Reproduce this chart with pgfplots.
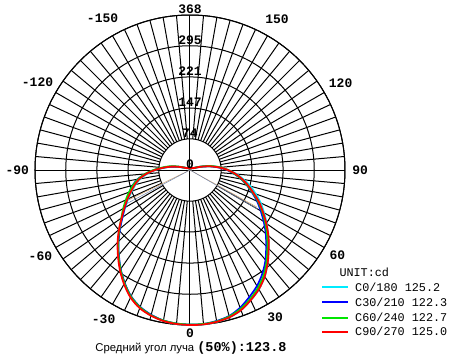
\documentclass[border=0pt]{standalone}
\usepackage{fontspec}
\setmainfont{Liberation Sans}
\newfontfamily\mono{Liberation Mono}
\usepackage{pgfplots}
\pgfplotsset{compat=1.18}
\usepgfplotslibrary{polar}
\usepackage{pgfplotstable}

\pgfplotstableread{
a c0 c30 c60 c90
-180 4 4 4 4
-175 4 4 4 4
-170 4 4 4 4
-165 4 4 4 4
-160 4 4 4 4
-155 5 5 5 5
-150 5 5 5 5
-145 5 5 5 5
-140 6 6 6 6
-135 6 6 6 6
-130 7 7 7 7
-125 8 8 8 8
-120 9 9 9 9
-115 12 12 13 12
-110 18 18 20 18
-105 29 30 33 30
-100 45 46 50 46
-95 62 64 66 63
-90 82 85 86 83
-85 102 106 107 104
-80 120 126 125 122
-75 134 141 140 136
-70 147 153 154 149
-65 162 165 168 164
-60 178 179 183 180
-55 196 196 199 198
-50 218 217 219 220
-45 241 240 241 243
-40 264 263 264 266
-35 288 287 288 290
-30 311 310 311 313
-25 332 331 332 334
-20 347 346 347 349
-15 357 356 357 358
-10 363 363 363 364
-5 367 366 366 367
0 368 367 367 368
5 368 367 367 368
10 366 364 365 366
15 362 359 360 362
20 354 348 351 354
25 341 333 338 341
30 327 318 323 327
35 309 300 305 309
40 287 279 283 287
45 264 256 260 264
50 243 235 239 243
55 222 214 218 221
60 203 194 198 200
65 185 176 179 181
70 166 157 159 161
75 148 140 141 143
80 129 123 124 126
85 111 106 107 109
90 91 88 90 90
95 71 69 72 70
100 51 50 53 50
105 33 32 34 32
110 20 19 21 19
115 12 12 13 12
120 9 9 9 9
125 8 8 8 8
130 7 7 7 7
135 6 6 6 6
140 6 6 6 6
145 5 5 5 5
150 5 5 5 5
155 5 5 5 5
160 4 4 4 4
165 4 4 4 4
170 4 4 4 4
175 4 4 4 4
180 4 4 4 4
}\data

\definecolor{ccyan}{RGB}{0,235,255}
\definecolor{cblue}{RGB}{0,0,255}
\definecolor{cgreen}{RGB}{0,230,0}
\definecolor{cred}{RGB}{255,0,0}
\definecolor{ctan}{RGB}{205,160,110}
\definecolor{cgb}{RGB}{110,130,170}

\begin{document}
\begin{tikzpicture}
\path[use as bounding box] (-190bp,-190bp) rectangle (259bp,170bp);
\begin{polaraxis}[
  at={(0,0)}, anchor=center,
  scale only axis, width=310bp, height=310bp,
  ymin=0, ymax=368,
  xtick={0,90,180,270},
  ytick={74,147,221,295,368},
  xticklabels={}, yticklabels={},
  major tick length=0pt,
  xmajorgrids, ymajorgrids,
  grid style={black, line width=1bp},
  axis line style={black, line width=1bp},
  clip=false,
]
\pgfplotsinvokeforeach{5,10,...,355}{
  \addplot[black, line width=1bp, forget plot] coordinates {(#1,74) (#1,368)};
}
\addplot[ctan, line width=0.5bp, forget plot] coordinates {(-154,163) (0,0) (-29,181)};
\addplot[cgb, line width=0.5bp, forget plot] coordinates {(-152,170) (0,0) (-30,186)};
\addplot[ccyan, line width=1.8bp, smooth] table[x expr=\thisrow{a}-90, y=c0] {\data};
\addplot[cblue, line width=1.8bp, smooth] table[x expr=\thisrow{a}-90, y=c30] {\data};
\addplot[cgreen, line width=1.8bp, smooth] table[x expr=\thisrow{a}-90, y=c60] {\data};
\addplot[cred, line width=1.8bp, smooth] table[x expr=\thisrow{a}-90, y=c90] {\data};

\tikzset{al/.style={font=\mono\bfseries\fontsize{13bp}{15bp}\selectfont, inner sep=0pt}}
\node[al] at (axis cs:270,387) {0};
\node[al] at (axis cs:-60,404) {30};
\node[al] at (axis cs:240,410) {-30};
\node[al] at (axis cs:-30,404) {60};
\node[al] at (axis cs:210,410) {-60};
\node[al] at (axis cs:0,404) {90};
\node[al] at (axis cs:180,410) {-90};
\node[al] at (axis cs:30,413) {120};
\node[al] at (axis cs:150,418) {-120};
\node[al] at (axis cs:60,413) {150};
\node[al] at (axis cs:120,415) {-150};
\tikzset{rl/.style={font=\mono\bfseries\fontsize{13bp}{15bp}\selectfont, inner sep=1bp, anchor=south}}
\node[rl] at (axis cs:90,0) {0};
\node[rl] at (axis cs:90,74) {74};
\node[rl] at (axis cs:90,147) {147};
\node[rl] at (axis cs:90,221) {221};
\node[rl] at (axis cs:90,295) {295};
\node[rl] at (axis cs:90,368) {368};
\end{polaraxis}
\begin{scope}[font=\mono\fontsize{11.8bp}{14bp}\selectfont]
\node[anchor=west, inner sep=0pt] at (149.3bp,-102.7bp) {UNIT:cd};
\draw[ccyan, line width=1.8bp] (132bp,-117.3bp) -- (158.3bp,-117.3bp);
\node[anchor=west, inner sep=0pt] at (165bp,-117.3bp) {C0/180 125.2};
\draw[cblue, line width=1.8bp] (132bp,-132.3bp) -- (158.3bp,-132.3bp);
\node[anchor=west, inner sep=0pt] at (165bp,-132.3bp) {C30/210 122.3};
\draw[cgreen, line width=1.8bp] (132bp,-147.7bp) -- (158.3bp,-147.7bp);
\node[anchor=west, inner sep=0pt] at (165bp,-147.7bp) {C60/240 122.7};
\draw[cred, line width=1.8bp] (132bp,-161.7bp) -- (158.3bp,-161.7bp);
\node[anchor=west, inner sep=0pt] at (165bp,-161.7bp) {C90/270 125.0};
\end{scope}
\node[anchor=east, inner sep=0pt] at (96.7bp,-178.5bp) {{\fontsize{11.3bp}{13bp}\selectfont Средний угол луча }{\mono\bfseries\fontsize{13.5bp}{15bp}\selectfont(50\%):123.8}};
\end{tikzpicture}
\end{document}
